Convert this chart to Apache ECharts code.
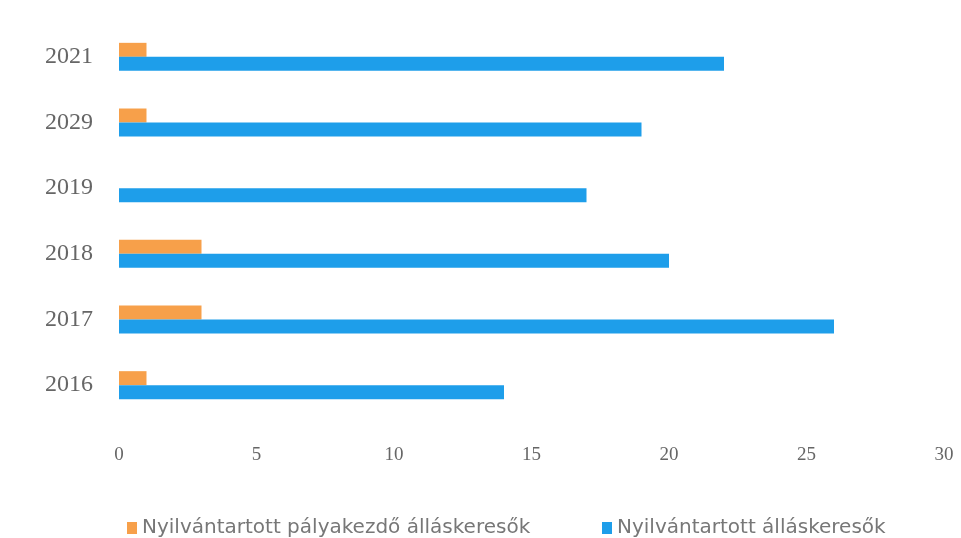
<!DOCTYPE html>
<html>
<head>
<meta charset="utf-8">
<script src="https://cdn.jsdelivr.net/npm/echarts@6/dist/echarts.min.js"></script>
<style>html,body{margin:0;padding:0;background:#fff;}#c{width:961px;height:538px;}</style>
</head>
<body>
<div id="c"></div>
<script>
const categories = ['2016', '2017', '2018', '2019', '2029', '2021'];
const palyakezdo = [1, 3, 3, 0, 1, 1];
const allaskeresok = [14, 26, 20, 17, 19, 22];
const xTicks = [0, 5, 10, 15, 20, 25, 30];
const nameA = 'Nyilvántartott pályakezdő álláskeresők';
const nameB = 'Nyilvántartott álláskeresők';

const chart = echarts.init(document.getElementById('c'));
const legendText = { color: '#777', fontFamily: 'DejaVu Sans, sans-serif', fontSize: 20 };
chart.setOption({
  animation: false,
  backgroundColor: '#fff',
  grid: { left: 119, right: 17, top: 24, bottom: 120, containLabel: false },
  legend: [
    { data: [nameA], left: 122, top: 513, icon: 'rect', itemWidth: 10, itemHeight: 12, itemGap: 10, textStyle: legendText },
    { data: [nameB], left: 597, top: 513, icon: 'rect', itemWidth: 10, itemHeight: 12, itemGap: 10, textStyle: legendText }
  ],
  xAxis: {
    type: 'value', min: xTicks[0], max: xTicks[xTicks.length - 1], interval: 5,
    axisLine: { show: false }, axisTick: { show: false }, splitLine: { show: false },
    axisLabel: { color: '#666', fontFamily: 'Liberation Serif, serif', fontSize: 19, margin: 28 }
  },
  yAxis: {
    type: 'category', data: categories,
    axisLine: { show: false }, axisTick: { show: false },
    axisLabel: { color: '#666', fontFamily: 'Liberation Serif, serif', fontSize: 24, margin: 26 }
  },
  series: [
    { name: nameA, type: 'bar', data: palyakezdo, barWidth: 14, barGap: '0%', itemStyle: { color: '#F7A04A' } },
    { name: nameB, type: 'bar', data: allaskeresok, barWidth: 14, barGap: '0%', itemStyle: { color: '#1E9EEA' } }
  ]
});
</script>
</body>
</html>
